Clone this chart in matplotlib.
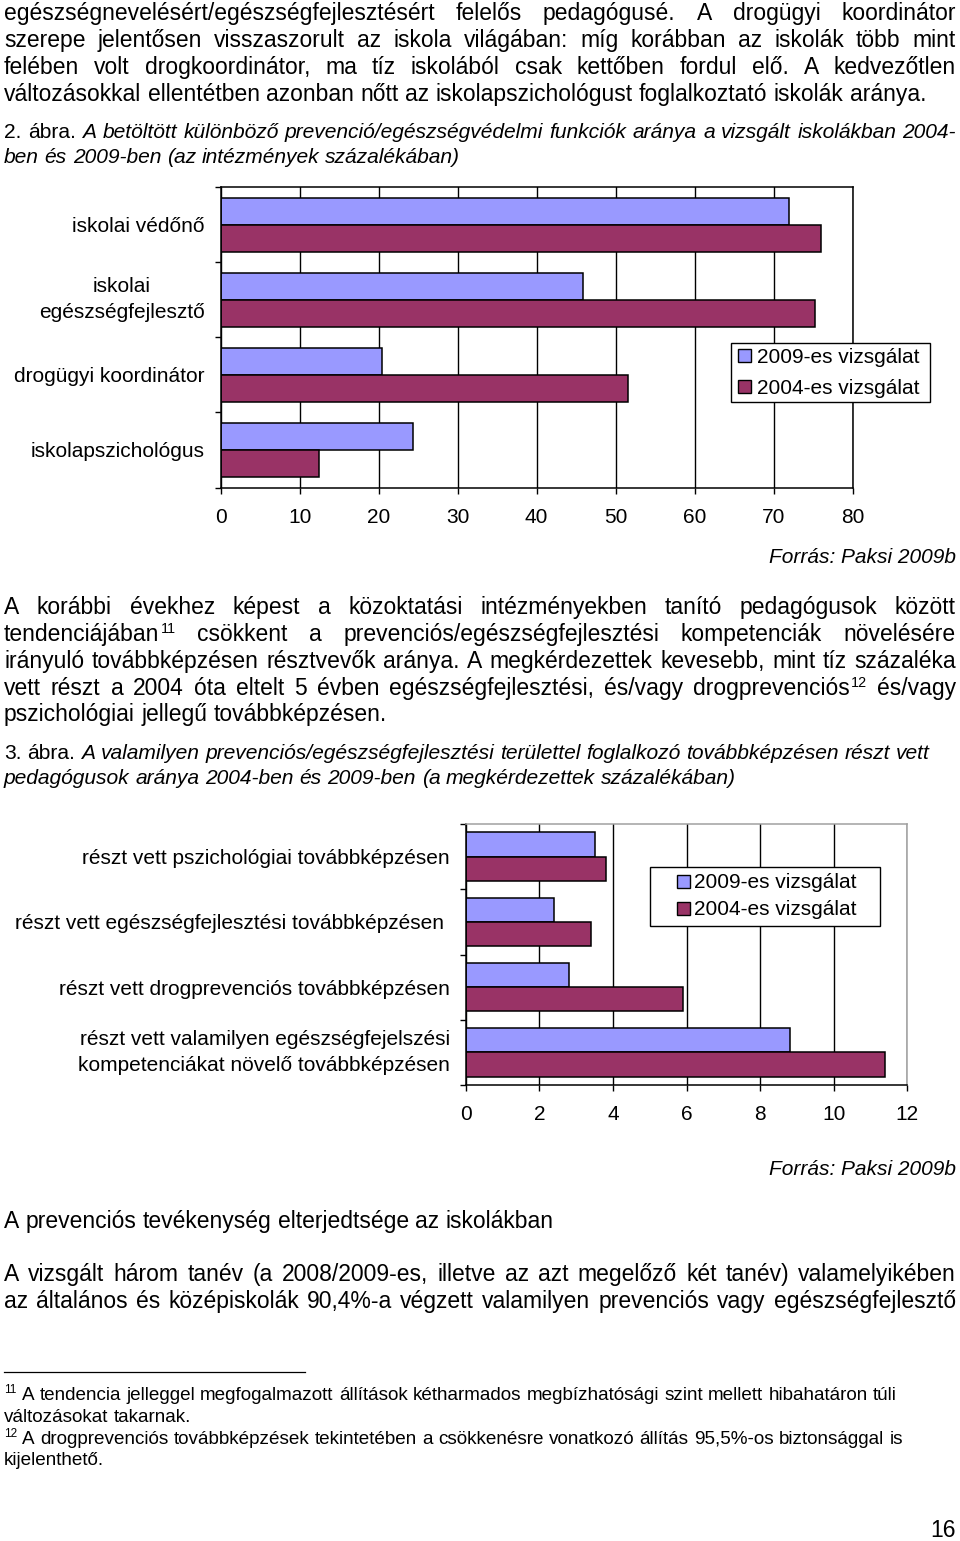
import numpy as np
import matplotlib.pyplot as plt
from matplotlib.lines import Line2D

plt.rcParams['font.family'] = 'Liberation Sans'

W, H = 960, 1541
PT = 0.72  # points per pixel at dpi 100

# --- chart data ---
cats1 = ["iskolai védőnő", "iskolai\negészségfejlesztő",
         "drogügyi koordinátor", "iskolapszichológus"]
val2009_1 = [71.9, 45.9, 20.4, 24.4]
val2004_1 = [76.0, 75.3, 51.6, 12.5]

cats2 = ["részt vett pszichológiai továbbképzésen",
         "részt vett egészségfejlesztési továbbképzésen ",
         "részt vett drogprevenciós továbbképzésen",
         "részt vett valamilyen egészségfejelszési\nkompetenciákat növelő továbbképzésen"]
val2009_2 = [3.5, 2.4, 2.8, 8.8]
val2004_2 = [3.8, 3.4, 5.9, 11.4]

series = ["2009-es vizsgálat", "2004-es vizsgálat"]
c09, c04 = '#9999FF', '#993366'

fig = plt.figure(figsize=(9.6, 15.41), dpi=100)
page = fig.add_axes([0, 0, 1, 1])
page.set_xlim(0, W)
page.set_ylim(H, 0)
page.axis('off')
rend = fig.canvas.get_renderer()


def line(yb, segs, px, justify=False, sup_px=14.4, x0=4, x1=956):
    # segs: list of (text, style) with style n=normal, i=italic, s=superscript
    items = []
    for txt, st in segs:
        if st == 's':
            items.append((txt, st))
        else:
            items += [(w, st) for w in txt.split()]
    arts = []
    for w, st in items:
        size = (sup_px if st == 's' else px) * PT
        t = page.text(0, yb, w, fontsize=size, va='baseline', ha='left',
                      fontstyle='italic' if st == 'i' else 'normal')
        if st == 's':
            t.set_y(yb - 0.37 * px)
        arts.append((t, st))
    widths = [t.get_window_extent(rend).width for t, _ in arts]
    gaps = [i > 0 and not (st == 's') for i, (_, st) in enumerate(arts)]
    if justify:
        gap = (x1 - x0 - sum(widths) - 1.0 * (len(arts) - 1 - sum(gaps))) / sum(gaps)
    else:
        gap = 0.278 * px
    x = x0
    for (t, st), w, g in zip(arts, widths, gaps):
        if g:
            x += gap
        elif st == 's' and x > x0:
            x += 1.0
        t.set_x(x)
        x += w


BODY, CAP, SRC, FOOT = 22.9, 21.0, 20.9, 18.9

# paragraph 1
line(20, [("egészségnevelésért/egészségfejlesztésért felelős pedagógusé. A drogügyi koordinátor", 'n')], BODY, True)
line(47, [("szerepe jelentősen visszaszorult az iskola világában: míg korábban az iskolák több mint", 'n')], BODY, True)
line(74, [("felében volt drogkoordinátor, ma tíz iskolából csak kettőben fordul elő. A kedvezőtlen", 'n')], BODY, True)
line(101, [("változásokkal ellentétben azonban nőtt az iskolapszichológust foglalkoztató iskolák aránya.", 'n')], BODY)

line(138, [("2. ábra.", 'n'), ("A betöltött különböző prevenció/egészségvédelmi funkciók aránya a vizsgált iskolákban 2004-", 'i')], CAP, True)
line(163, [("ben és 2009-ben (az intézmények százalékában)", 'i')], CAP)

page.text(956, 563, "Forrás: Paksi 2009b", fontsize=SRC * PT, fontstyle='italic',
          ha='right', va='baseline')

# paragraph 2
line(614, [("A korábbi évekhez képest a közoktatási intézményekben tanító pedagógusok között", 'n')], BODY, True)
line(641, [("tendenciájában", 'n'), ("11", 's'), ("csökkent a prevenciós/egészségfejlesztési kompetenciák növelésére", 'n')], BODY, True)
line(668, [("irányuló továbbképzésen résztvevők aránya. A megkérdezettek kevesebb, mint tíz százaléka", 'n')], BODY, True)
line(695, [("vett részt a 2004 óta eltelt 5 évben egészségfejlesztési, és/vagy drogprevenciós", 'n'), ("12", 's'), ("és/vagy", 'n')], BODY, True)
line(721, [("pszichológiai jellegű továbbképzésen.", 'n')], BODY)

line(759, [("3. ábra.", 'n'), ("A valamilyen prevenciós/egészségfejlesztési területtel foglalkozó továbbképzésen részt vett", 'i')], CAP)
line(784, [("pedagógusok aránya 2004-ben és 2009-ben (a megkérdezettek százalékában)", 'i')], CAP)

page.text(956, 1175, "Forrás: Paksi 2009b", fontsize=SRC * PT, fontstyle='italic',
          ha='right', va='baseline')

line(1228, [("A prevenciós tevékenység elterjedtsége az iskolákban", 'n')], BODY)
line(1281, [("A vizsgált három tanév (a 2008/2009-es, illetve az azt megelőző két tanév) valamelyikében", 'n')], BODY, True)
line(1308, [("az általános és középiskolák 90,4%-a végzett valamilyen prevenciós vagy egészségfejlesztő", 'n')], BODY, True)

# footnotes
page.plot([4, 305], [1372, 1372], color='black', lw=0.9)
line(1400, [("11", 's'), ("A tendencia jelleggel megfogalmazott állítások kétharmados megbízhatósági szint mellett hibahatáron túli", 'n')], FOOT, sup_px=11.7)
line(1422, [("változásokat takarnak.", 'n')], FOOT)
line(1444, [("12", 's'), ("A drogprevenciós továbbképzések tekintetében a csökkenésre vonatkozó állítás 95,5%-os biztonsággal is", 'n')], FOOT, sup_px=11.7)
line(1465, [("kijelenthető.", 'n')], FOOT)

page.text(956, 1537, "16", fontsize=BODY * PT, ha='right', va='baseline')


def chart(box, cats, v09, v04, xmax, step, bh, malign, lsp, frame_col, leg):
    l, t, r, b = box
    ax = fig.add_axes([l / W, 1 - b / H, (r - l) / W, (b - t) / H])
    y = np.arange(len(cats))
    ax.barh(y - bh / 2, v09, height=bh, color=c09, edgecolor='black', lw=1.1)
    ax.barh(y + bh / 2, v04, height=bh, color=c04, edgecolor='black', lw=1.1)
    ax.set_xlim(0, xmax)
    ax.set_ylim(len(cats) - 0.5, -0.5)
    ax.set_xticks(np.arange(0, xmax + 1, step))
    ax.set_yticks(y)
    ax.set_yticklabels(cats, fontsize=15)
    for lab in ax.get_yticklabels():
        if '\n' in lab.get_text():
            lab.set_multialignment(malign)
            lab.set_linespacing(lsp)
            lab.set_verticalalignment('center')
    ax.set_yticks(np.arange(-0.5, len(cats)), minor=True)
    ax.tick_params(axis='y', which='major', length=0, pad=16 * PT)
    ax.tick_params(axis='y', which='minor', length=6 * PT, width=1, color='black')
    ax.tick_params(axis='x', length=6 * PT, width=1, pad=14.5 * PT, labelsize=15)
    ax.grid(axis='x', color='black', lw=1)
    ax.set_axisbelow(True)
    for s in ['left', 'bottom']:
        ax.spines[s].set_color('black')
        ax.spines[s].set_linewidth(1.1)
    for s in ['top', 'right']:
        ax.spines[s].set_color(frame_col)
        ax.spines[s].set_linewidth(1.1)

    lx, ly, bp, hl, htp, lsp_leg, pad_lab = leg
    handles = [Line2D([], [], ls='none', marker='s', ms=13 * PT, mfc=c, mec='black', mew=1.0)
               for c in (c09, c04)]
    lg = ax.legend(handles, [s + pad_lab for s in series], loc='upper left',
                   bbox_to_anchor=(lx / W, 1 - ly / H), bbox_transform=fig.transFigure,
                   borderaxespad=0, borderpad=bp, handlelength=hl, handletextpad=htp,
                   labelspacing=lsp_leg, fontsize=15, fancybox=False, framealpha=1,
                   edgecolor='black')
    lg.get_frame().set_linewidth(1.0)
    return ax


chart((220.7, 187, 852.5, 487.5), cats1, val2009_1, val2004_1, 80, 10, 0.36,
      'center', 1.5, 'black', (731, 343, 0.22, 0.77, 0.26, 0.58, " "))
chart((465.7, 824, 907.3, 1085), cats2, val2009_2, val2004_2, 12, 2, 0.37,
      'right', 1.43, '#a0a0a0', (650, 867, 0.3, 2.55, -0.72, 0.39, "   "))

fig.savefig('out.png', dpi=100)
